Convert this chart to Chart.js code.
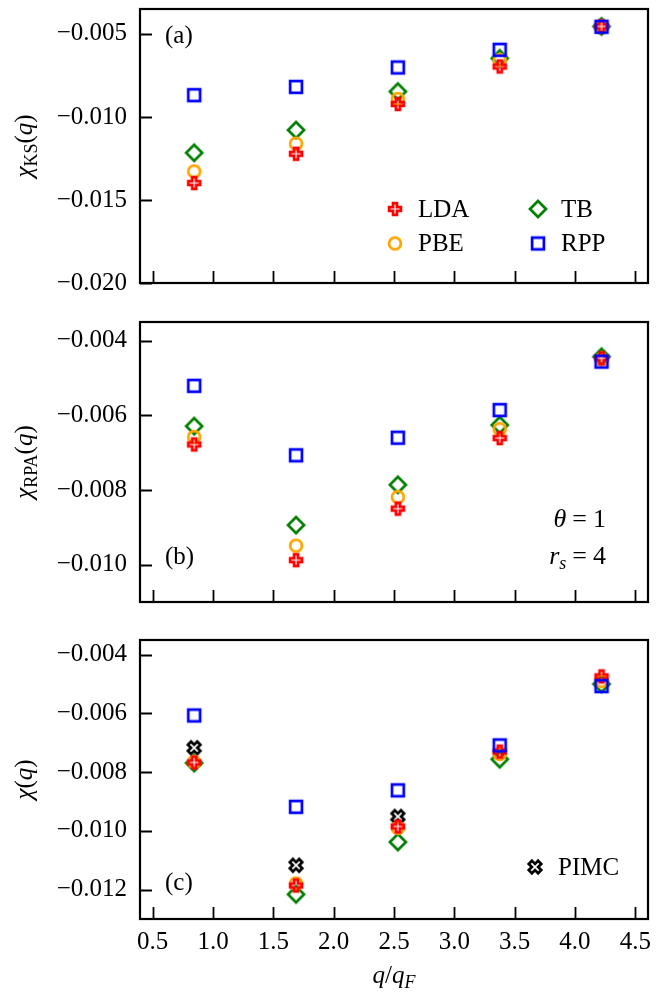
<!DOCTYPE html>
<html>
<head>
<meta charset="utf-8">
<script src="https://cdn.jsdelivr.net/npm/chart.js@4.4.0/dist/chart.umd.min.js"></script>
<style>
body{margin:0;background:#fff;width:666px;height:993px;position:relative;overflow:hidden}
canvas{position:absolute;left:0}
</style>
</head>
<body>
<canvas id="ca" width="666" height="300" style="top:0"></canvas>
<canvas id="cb" width="666" height="320" style="top:300px"></canvas>
<canvas id="cc" width="666" height="373" style="top:620px"></canvas>
<script>
const q=[0.844,1.688,2.532,3.376,4.22];

/* chi_KS */
const ldaKS=[-0.01398,-0.01222,-0.00922,-0.00696,-0.00455];
const pbeKS=[-0.01328,-0.01161,-0.00892,-0.00657,-0.00455];
const tbKS =[-0.01216,-0.01079,-0.00847,-0.00647,-0.00455];
const rppKS=[-0.00869,-0.00819,-0.00702,-0.00596,-0.00457];

/* chi_RPA */
const ldaRPA=[-0.00678,-0.00988,-0.00850,-0.00661,-0.00447];
const pbeRPA=[-0.00658,-0.00949,-0.00819,-0.00637,-0.00450];
const tbRPA =[-0.00629,-0.00894,-0.00786,-0.00626,-0.00443];
const rppRPA=[-0.00521,-0.00707,-0.00660,-0.00586,-0.00456];

/* chi */
const ldaChi =[-0.00767,-0.01186,-0.00985,-0.00730,-0.00474];
const pbeChi =[-0.00765,-0.01179,-0.00990,-0.00738,-0.00490];
const tbChi  =[-0.00769,-0.01216,-0.01038,-0.00756,-0.00500];
const rppChi =[-0.00607,-0.00918,-0.00862,-0.00709,-0.00507];
const pimcChi=[-0.00717,-0.01117,-0.00951,null,null];

const xTicks=[0.5,1.0,1.5,2.0,2.5,3.0,3.5,4.0,4.5];
const ticksKS=[-0.020,-0.015,-0.010,-0.005];
const ticksRPA=[-0.010,-0.008,-0.006,-0.004];
const ticksChi=[-0.012,-0.010,-0.008,-0.006,-0.004];

const SERIF='"Liberation Serif", "DejaVu Serif", serif';
const F=(s,it)=>(it?'italic ':'')+s+'px '+SERIF;

/* hollow markers */
function marker(shape,color){
let c=document.createElement('canvas');
c.width=c.height=24;
let g=c.getContext('2d');
g.translate(12,12);
g.strokeStyle=color;
g.lineWidth=2.7;
g.lineJoin='miter';
g.beginPath();
if(shape=='o')g.arc(0,0,5.9,0,Math.PI*2);
else if(shape=='s')g.rect(-5.9,-5.9,11.8,11.8);
else if(shape=='D'){g.moveTo(0,-8);g.lineTo(8,0);g.lineTo(0,8);g.lineTo(-8,0);g.closePath();}
else{
if(shape=='X')g.rotate(Math.PI/4);
let a=shape=='X'?6.6:5.9,b=a/3;
let p=[[-b,-a],[b,-a],[b,-b],[a,-b],[a,b],[b,b],[b,a],[-b,a],[-b,b],[-a,b],[-a,-b],[-b,-b]];
p.forEach((v,i)=>i?g.lineTo(v[0],v[1]):g.moveTo(v[0],v[1]));
g.closePath();
}
g.stroke();
return c;
}

const mLDA=marker('P','#ff0000');
const mPBE=marker('o','#ffa500');
const mTB=marker('D','#008000');
const mRPP=marker('s','#0000ff');
const mPIMC=marker('X','#000000');

function ds(label,ys,img){
return {label:label,data:q.map((x,i)=>({x:x,y:ys[i]})),pointStyle:img,pointRadius:8,showLine:false};
}

/* text with mixed fonts: [text,font,dy,extra gap] */
function rich(ctx,parts,x,y,align){
let w=0;
parts.forEach(p=>{ctx.font=p[1];w+=ctx.measureText(p[0]).width+(p[3]||0);});
let cx=align=='center'?x-w/2:align=='right'?x-w:x;
ctx.textAlign='left';
ctx.textBaseline='alphabetic';
ctx.fillStyle='#000';
parts.forEach(p=>{
ctx.font=p[1];
ctx.fillText(p[0],cx,y+(p[2]||0));
cx+=ctx.measureText(p[0]).width+(p[3]||0);
});
}

/* frame + inward ticks */
const frame={
id:'frame',
afterDraw(c){
let a=c.chartArea,g=c.ctx;
g.save();
g.strokeStyle='#000';
g.lineWidth=1.8;
g.beginPath();
c.scales.y.ticks.forEach(t=>{
let p=Math.round(c.scales.y.getPixelForValue(t.value))+0.5;
g.moveTo(a.left,p);g.lineTo(a.left+12,p);
});
c.scales.x.ticks.forEach(t=>{
let p=Math.round(c.scales.x.getPixelForValue(t.value))+0.5;
g.moveTo(p,a.bottom);g.lineTo(p,a.bottom-12);
});
g.stroke();
g.lineWidth=2.2;
g.strokeRect(a.left,a.top,a.right-a.left,a.bottom-a.top);
g.restore();
}
};

function deco(d){
return {
id:'deco',
afterDraw(c){
let a=c.chartArea,g=c.ctx;
g.save();
// y title
g.save();
g.translate(32,(a.top+a.bottom)/2);
g.rotate(-Math.PI/2);
rich(g,d.ytitle,0,0,'center');
g.restore();
// panel tag
g.font=F(25);
g.fillStyle='#000';
g.textAlign='left';
g.textBaseline='middle';
g.fillText(d.tag[0],a.left+d.tag[1],d.tag[2](a));
// legend entries
(d.legend||[]).forEach(l=>{
let x=a.left+l[2],y=d.legTop(a)+l[3];
g.drawImage(l[0],x-12,y-12);
g.font=F(25);
g.textBaseline='middle';
g.fillText(l[1],x+23,y+1);
});
(d.notes||[]).forEach(n=>rich(g,n[0],n[1](a),n[2](a),n[3]));
g.restore();
}
};
}

function panel(id,sets,ymin,ymax,yt,pad,xh,showX,d){
return new Chart(document.getElementById(id),{
type:'scatter',
data:{datasets:sets},
options:{
responsive:false,animation:false,devicePixelRatio:1,events:[],
layout:{padding:{left:0,right:18,top:pad[0],bottom:pad[1]}},
plugins:{legend:{display:false},tooltip:{enabled:false}},
scales:{
x:{
type:'linear',min:0.395,max:4.605,
grid:{display:false,drawTicks:false},border:{display:false},
afterBuildTicks:s=>{s.ticks=xTicks.map(v=>({value:v}));},
afterFit:s=>{s.height=xh;s.paddingLeft=0;s.paddingRight=0;},
ticks:{display:showX,padding:8,autoSkip:false,maxRotation:0,color:'#000',
font:{family:SERIF,size:25},callback:v=>v.toFixed(1)}
},
y:{
type:'linear',min:ymin,max:ymax,
grid:{display:false,drawTicks:false},border:{display:false},
afterBuildTicks:s=>{s.ticks=yt.map(v=>({value:v}));},
afterFit:s=>{s.width=140;s.paddingTop=0;s.paddingBottom=0;},
ticks:{padding:13,color:'#000',font:{family:SERIF,size:25},
callback:v=>'\u2212'+Math.abs(v).toFixed(3)}
}
}
},
plugins:[frame,deco(d)]
});
}

/* (a) Kohn-Sham response */
panel('ca',
[ds('RPP',rppKS,mRPP),ds('LDA',ldaKS,mLDA),ds('PBE',pbeKS,mPBE),ds('TB',tbKS,mTB)],
-0.020,-0.0035,ticksKS,[3,17],0,false,
{
ytitle:[['\u03c7',F(25,true)],['KS',F(18),5],['(',F(25)],['q',F(25,true)],[')',F(25)]],
tag:['(a)',25,a=>a.top+27],
legTop:a=>a.top,
legend:[[mLDA,'LDA',255,200],[mPBE,'PBE',255,234.5],[mTB,'TB',398,200],[mRPP,'RPP',398,234.5]]
});

/* (b) RPA */
panel('cb',
[ds('RPP',rppRPA,mRPP),ds('LDA',ldaRPA,mLDA),ds('PBE',pbeRPA,mPBE),ds('TB',tbRPA,mTB)],
-0.0110,-0.0035,ticksRPA,[22,18],0,false,
{
ytitle:[['\u03c7',F(25,true)],['RPA',F(18),5],['(',F(25)],['q',F(25,true)],[')',F(25)]],
tag:['(b)',25,a=>a.bottom-45],
notes:[
[[['\u03b8',F(26,true),0,6],['=',F(26),0,6],['1',F(26)]],a=>a.right-42,a=>a.bottom-75,'right'],
[[['r',F(26,true)],['s',F(18,true),5,6],['=',F(26),0,6],['4',F(26)]],a=>a.right-42,a=>a.bottom-38,'right']
]
});

/* (c) full response */
panel('cc',
[ds('RPP',rppChi,mRPP),ds('LDA',ldaChi,mLDA),ds('PBE',pbeChi,mPBE),ds('TB',tbChi,mTB),ds('PIMC',pimcChi,mPIMC)],
-0.0130,-0.0035,ticksChi,[20,0],74,true,
{
ytitle:[['\u03c7',F(25,true)],['(',F(25)],['q',F(25,true)],[')',F(25)]],
tag:['(c)',25,a=>a.bottom-36],
legTop:a=>a.bottom,
legend:[[mPIMC,'PIMC',395,-52]],
notes:[
[[['q',F(25,true)],['/',F(25)],['q',F(25,true)],['F',F(18,true),5]],a=>(a.left+a.right)/2,a=>a.bottom+64,'center']
]
});
</script>
</body>
</html>
